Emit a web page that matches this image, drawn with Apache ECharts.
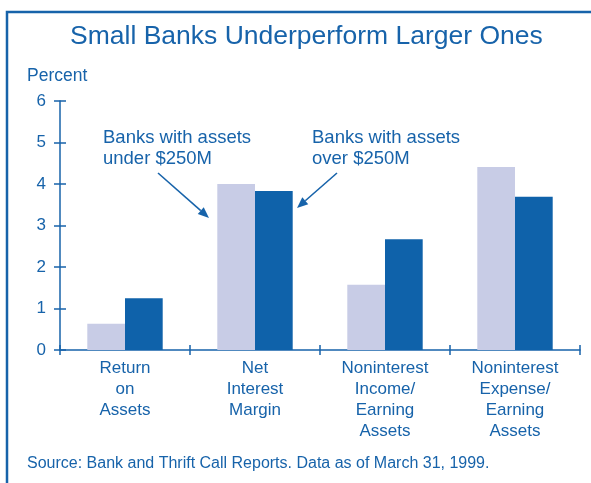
<!DOCTYPE html>
<html><head><meta charset="utf-8">
<script src="https://cdn.jsdelivr.net/npm/echarts@6/dist/echarts.min.js"></script>
<style>html,body{margin:0;padding:0;background:#fff}#c{width:591px;height:483px}</style>
</head><body><div id="c"></div>
<script>
const categories = ['Return\non\nAssets', 'Net\nInterest\nMargin', 'Noninterest\nIncome/\nEarning\nAssets', 'Noninterest\nExpense/\nEarning\nAssets'];
const smallBanks = [0.63, 4.0, 1.57, 4.41];
const largeBanks = [1.25, 3.83, 2.67, 3.69];
const yTicks = [0, 1, 2, 3, 4, 5, 6];

const BLUE = '#1763aa';
const DARK = '#0f62aa';
const LIGHT = '#c8cce6';
const FONT = '"Liberation Sans", Arial, sans-serif';

function arrow(x1, y1, x2, y2) {
  const ang = Math.atan2(y2 - y1, x2 - x1);
  const L = 11, W = 4.5;
  const bx = x2 - L * Math.cos(ang), by = y2 - L * Math.sin(ang);
  const px = -Math.sin(ang) * W, py = Math.cos(ang) * W;
  return [
    {type: 'line', shape: {x1: x1, y1: y1, x2: bx, y2: by}, style: {stroke: BLUE, lineWidth: 1.6}},
    {type: 'polygon', shape: {points: [[x2, y2], [bx + px, by + py], [bx - px, by - py]]}, style: {fill: BLUE}}
  ];
}

const chart = echarts.init(document.getElementById('c'), null, {renderer: 'canvas'});
const axisCommon = {min: 0, max: 6, interval: 1};
chart.setOption({
  animation: false,
  textStyle: {fontFamily: FONT},
  grid: {left: 60, right: 11, top: 101, bottom: 133},
  xAxis: [{
    type: 'category', data: categories,
    axisLine: {lineStyle: {color: BLUE, width: 1.5}},
    axisTick: {show: true, length: 5, lineStyle: {color: BLUE, width: 1.5}},
    axisLabel: {color: BLUE, fontSize: 17, lineHeight: 21, margin: 8, fontFamily: FONT, interval: 0}
  }, {
    type: 'category', data: categories, position: 'bottom',
    axisLine: {show: false},
    axisTick: {show: true, inside: true, length: 5, lineStyle: {color: BLUE, width: 1.5}},
    axisLabel: {show: false}
  }],
  yAxis: [{
    type: 'value', ...axisCommon,
    axisLine: {show: true, lineStyle: {color: BLUE, width: 1.5}},
    axisTick: {show: true, length: 6, lineStyle: {color: BLUE, width: 1.5}},
    axisLabel: {color: BLUE, fontSize: 17, margin: 14, fontFamily: FONT,
      formatter: v => yTicks.includes(v) ? String(v) : ''},
    splitLine: {show: false}
  }, {
    type: 'value', ...axisCommon, position: 'left',
    axisLine: {show: false},
    axisTick: {show: true, inside: true, length: 6, lineStyle: {color: BLUE, width: 1.5}},
    axisLabel: {show: false},
    splitLine: {show: false}
  }],
  series: [
    {type: 'bar', name: 'Banks with assets under $250M', data: smallBanks, itemStyle: {color: LIGHT}, barGap: '0%', barCategoryGap: '42%'},
    {type: 'bar', name: 'Banks with assets over $250M', data: largeBanks, itemStyle: {color: DARK}, barGap: '0%', barCategoryGap: '42%'}
  ],
  graphic: [
    {type: 'polyline', shape: {points: [[7, 483], [7, 12], [591, 12]]}, style: {stroke: BLUE, lineWidth: 2.5, fill: null}},
    {type: 'text', left: 70, top: 23, style: {text: 'Small Banks Underperform Larger Ones', fill: BLUE, font: '26.5px ' + FONT}},
    {type: 'text', left: 27, top: 67, style: {text: 'Percent', fill: BLUE, font: '17.5px ' + FONT}},
    {type: 'text', left: 103, top: 127, style: {text: 'Banks with assets\nunder $250M', fill: BLUE, font: '18.5px ' + FONT, lineHeight: 21}},
    {type: 'text', left: 312, top: 127, style: {text: 'Banks with assets\nover $250M', fill: BLUE, font: '18.5px ' + FONT, lineHeight: 21}},
    {type: 'text', left: 27, top: 456, style: {text: 'Source: Bank and Thrift Call Reports. Data as of March 31, 1999.', fill: BLUE, font: '16px ' + FONT}},
    ...arrow(158, 173, 209, 218),
    ...arrow(337, 173, 297, 208)
  ]
});
</script></body></html>
